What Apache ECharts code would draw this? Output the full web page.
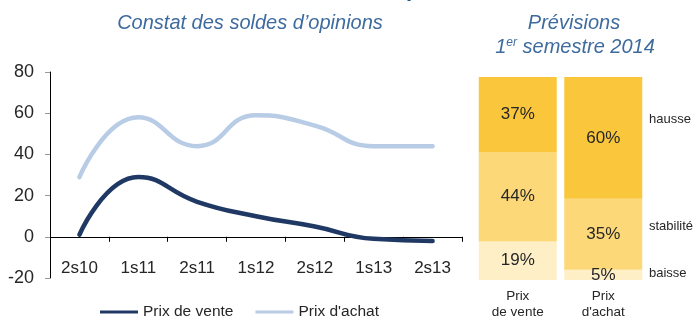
<!DOCTYPE html>
<html>
<head>
<meta charset="utf-8">
<script src="https://cdn.jsdelivr.net/npm/echarts@6/dist/echarts.min.js"></script>
<style>
  html, body { margin: 0; padding: 0; background: #fff; }
  #chart { width: 695px; height: 320px; }
</style>
</head>
<body>
<div id="chart"></div>
<script>
// Semesters of the observed opinion balances
const periods = ['2s10', '1s11', '2s11', '1s12', '2s12', '1s13', '2s13'];
// Opinion balances (%)
const prixVente = [1, 29, 17, 10, 5, -1, -2];
const prixAchat = [29, 58, 44, 59, 54, 44, 44];
const lineNames = ['Prix de vente', "Prix d'achat"];

// Forecast for the first half of 2014 (shares in %)
const forecastCats = ['Prix\nde vente', "Prix\nd'achat"];
const baisse = [19, 5];
const stabilite = [44, 35];
const hausse = [37, 60];
const forecastNames = ['baisse', 'stabilité', 'hausse'];

const yTicks = [-20, 0, 20, 40, 60, 80];

const FONT = '"Liberation Sans", Arial, sans-serif';
const TEXT = '#262626';
const TITLE = '#3E6B9E';

const chart = echarts.init(document.getElementById('chart'), null, { renderer: 'canvas' });

const pct = p => p.value + '%';

chart.setOption({
  animation: false,
  textStyle: { fontFamily: FONT },
  grid: [
    { left: 50, right: 233, top: 72, bottom: 42 },
    { left: 475, width: 171, top: 77, bottom: 39 }
  ],
  legend: {
    data: lineNames,
    left: 100,
    top: 304,
    padding: 0,
    icon: 'rect',
    itemWidth: 38,
    itemHeight: 3,
    itemGap: 22,
    textStyle: { fontSize: 15.5, color: TEXT, fontFamily: FONT }
  },
  xAxis: [
    {
      type: 'category', gridIndex: 0, data: periods, boundaryGap: true,
      axisLine: { onZero: true, lineStyle: { color: '#000', width: 1 } },
      axisTick: { show: true, length: 5, lineStyle: { color: '#000' } },
      axisLabel: { fontSize: 17, color: TEXT, margin: -18, interval: 0 },
      splitLine: { show: false }
    },
    {
      type: 'category', gridIndex: 1, data: forecastCats,
      axisLine: { show: false }, axisTick: { show: false },
      axisLabel: { fontSize: 13.5, color: TEXT, margin: 8, lineHeight: 16 }
    }
  ],
  yAxis: [
    {
      type: 'value', gridIndex: 0, min: yTicks[0], max: yTicks[yTicks.length - 1], interval: 20,
      axisLine: { show: true, lineStyle: { color: '#000', width: 1 } },
      axisTick: { show: true, length: 5, lineStyle: { color: '#999' } },
      axisLabel: { fontSize: 18, color: TEXT, margin: 16 },
      splitLine: { show: false }
    },
    {
      type: 'value', gridIndex: 1, min: 0, max: 100, show: false
    }
  ],
  series: [
    {
      name: lineNames[0], type: 'line', xAxisIndex: 0, yAxisIndex: 0,
      data: prixVente, smooth: 0.5, showSymbol: false, z: 3,
      lineStyle: { color: '#1F3864', width: 4.5, cap: 'round' },
      itemStyle: { color: '#1F3864' }
    },
    {
      name: lineNames[1], type: 'line', xAxisIndex: 0, yAxisIndex: 0,
      data: prixAchat, smooth: 0.5, showSymbol: false, z: 2,
      lineStyle: { color: '#B8CCE6', width: 4.5, cap: 'round' },
      itemStyle: { color: '#B8CCE6' }
    },
    {
      name: forecastNames[0], type: 'bar', stack: 'prev', xAxisIndex: 1, yAxisIndex: 1,
      data: baisse, barWidth: 78,
      itemStyle: { color: '#FEEFC7' },
      label: { show: true, position: 'inside', formatter: pct, fontSize: 17, color: TEXT }
    },
    {
      name: forecastNames[1], type: 'bar', stack: 'prev', xAxisIndex: 1, yAxisIndex: 1,
      data: stabilite, barWidth: 78,
      itemStyle: { color: '#FCD878' },
      label: { show: true, position: 'inside', formatter: pct, fontSize: 17, color: TEXT }
    },
    {
      name: forecastNames[2], type: 'bar', stack: 'prev', xAxisIndex: 1, yAxisIndex: 1,
      data: hausse, barWidth: 78,
      itemStyle: { color: '#F9C63C' },
      label: { show: true, position: 'inside', formatter: pct, fontSize: 17, color: TEXT }
    }
  ],
  graphic: [
    {
      type: 'text', left: 406, top: -21, silent: true,
      style: { text: 'p', font: 'bold 22px ' + FONT, fill: '#1F5C8F' }
    },
    {
      type: 'text', x: 250, y: 23, silent: true,
      style: { text: 'Constat des soldes d’opinions', font: 'italic 20px ' + FONT, fill: TITLE, align: 'center', verticalAlign: 'middle' }
    },
    {
      type: 'text', x: 574, y: 23, silent: true,
      style: { text: 'Prévisions', font: 'italic 20px ' + FONT, fill: TITLE, align: 'center', verticalAlign: 'middle' }
    },
    {
      type: 'text', x: 575, y: 47, silent: true,
      style: {
        text: '{n|1}{s|er}{n| semestre 2014}',
        align: 'center', verticalAlign: 'middle',
        rich: {
          n: { font: 'italic 20px ' + FONT, fill: TITLE },
          s: { font: 'italic 12px ' + FONT, fill: TITLE, padding: [0, 0, 8, 0] }
        }
      }
    },
    {
      type: 'text', x: 649, y: 119, silent: true,
      style: { text: forecastNames[2], font: '13px ' + FONT, fill: TEXT, verticalAlign: 'middle' }
    },
    {
      type: 'text', x: 649, y: 226, silent: true,
      style: { text: forecastNames[1], font: '13px ' + FONT, fill: TEXT, verticalAlign: 'middle' }
    },
    {
      type: 'text', x: 649, y: 273, silent: true,
      style: { text: forecastNames[0], font: '13px ' + FONT, fill: TEXT, verticalAlign: 'middle' }
    }
  ]
});
</script>
</body>
</html>
